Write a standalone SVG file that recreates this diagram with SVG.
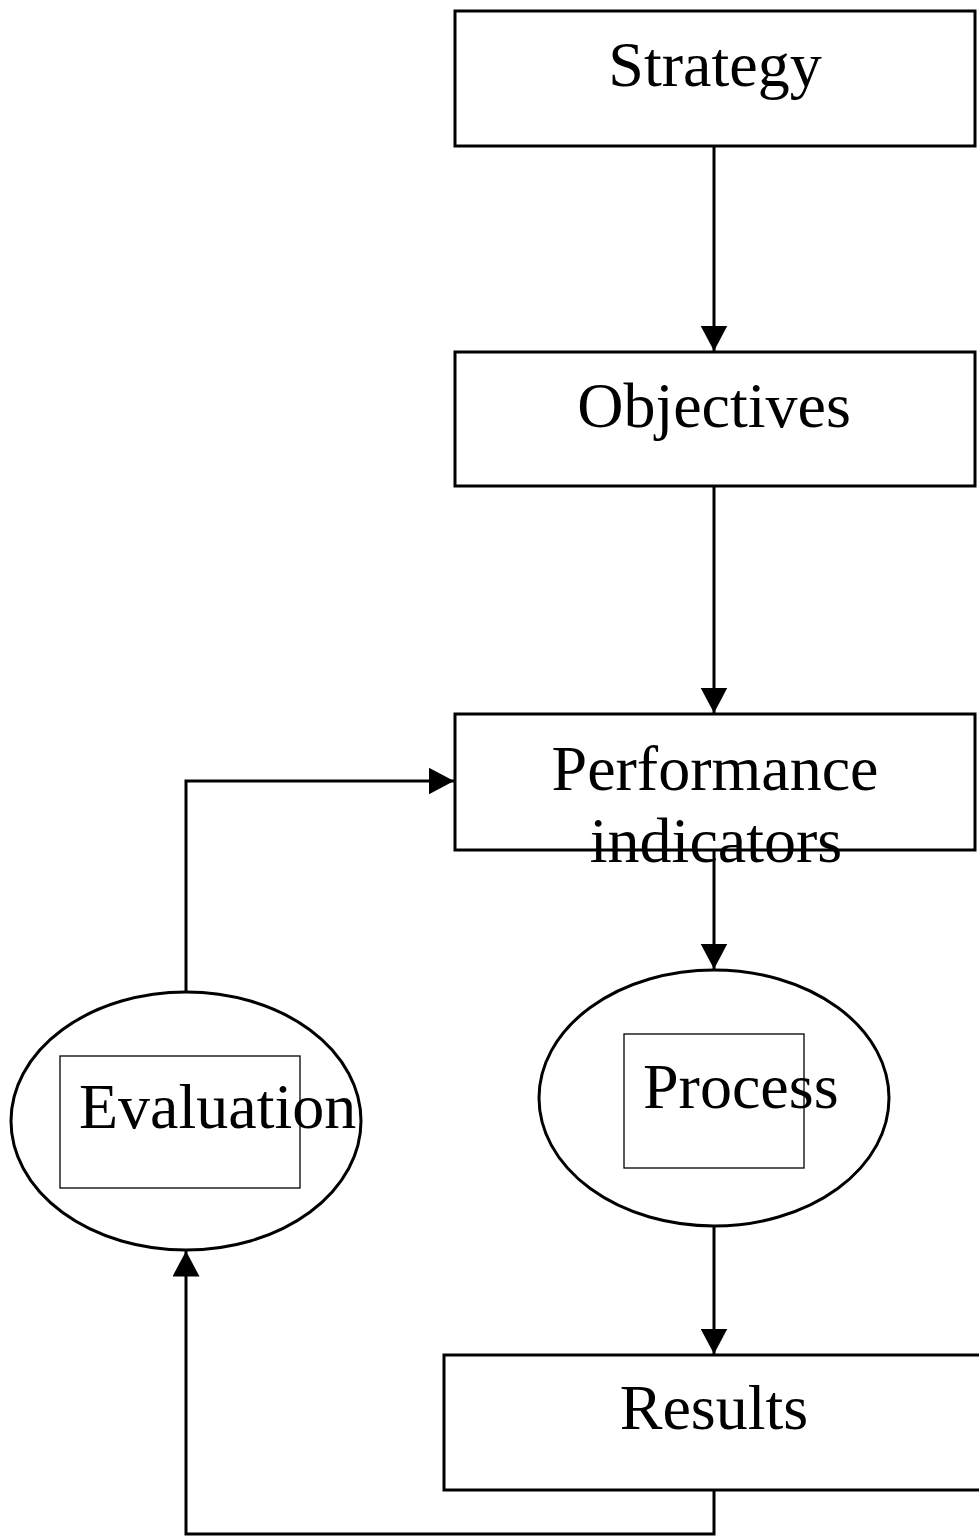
<svg xmlns="http://www.w3.org/2000/svg" width="979" height="1539" viewBox="0 0 979 1539">
<style>
.box{fill:#fff;stroke:#000;stroke-width:3}
.inner{fill:none;stroke:#000;stroke-width:1.3}
.lbl{font-family:"Liberation Serif","Times New Roman",serif;font-size:64px;fill:#000}
.c{text-anchor:middle}
.conn{fill:none;stroke:#000;stroke-width:3}
</style>
<defs>
<marker id="ah" markerWidth="8.5" markerHeight="9" refX="8.5" refY="4.5" orient="auto" markerUnits="strokeWidth" viewBox="0 0 8.5 9">
<path d="M0,0 L8.5,4.5 L0,9 Z" fill="#000"/>
</marker>
</defs>
<g id="connectors">
<line class="conn" x1="714" y1="146" x2="714" y2="351" marker-end="url(#ah)"/>
<line class="conn" x1="714" y1="486" x2="714" y2="713" marker-end="url(#ah)"/>
<line class="conn" x1="714" y1="850" x2="714" y2="969" marker-end="url(#ah)"/>
<line class="conn" x1="714" y1="1227" x2="714" y2="1354" marker-end="url(#ah)"/>
<polyline class="conn" points="714,1490 714,1534 186,1534 186,1251" marker-end="url(#ah)"/>
<polyline class="conn" points="186,992 186,781 454,781" marker-end="url(#ah)"/>
</g>
<g id="strategy">
<rect class="box" x="455" y="11" width="520" height="135"/>
<text class="lbl c" x="715" y="86">Strategy</text>
</g>
<g id="objectives">
<rect class="box" x="455" y="352" width="520" height="134"/>
<text class="lbl c" x="714" y="427">Objectives</text>
</g>
<g id="performance">
<rect class="box" x="455" y="714" width="520" height="136"/>
<text class="lbl c" x="715" y="790">Performance</text>
<text class="lbl c" x="716" y="862">indicators</text>
</g>
<g id="process">
<ellipse class="box" cx="714" cy="1098" rx="175" ry="128"/>
<rect class="inner" x="624" y="1034" width="180" height="134"/>
<text class="lbl" x="643" y="1108">Process</text>
</g>
<g id="evaluation">
<ellipse class="box" cx="186" cy="1121" rx="175" ry="129"/>
<rect class="inner" x="60" y="1056" width="240" height="132"/>
<text class="lbl" x="79" y="1128">Evaluation</text>
</g>
<g id="results">
<rect class="box" x="444" y="1355" width="545" height="135"/>
<text class="lbl c" x="714" y="1429">Results</text>
</g>
</svg>
